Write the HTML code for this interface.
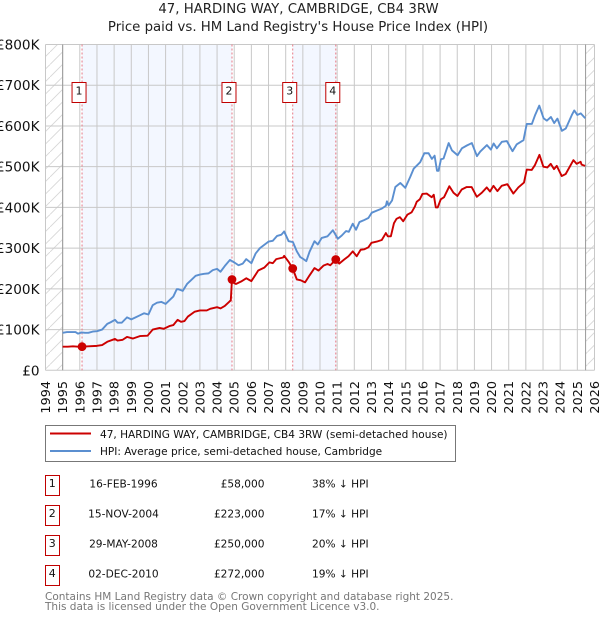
<!DOCTYPE html>
<html>
<head>
<meta charset="utf-8">
<style>
html,body{margin:0;padding:0;background:#fff;width:600px;height:620px;overflow:hidden}
svg{display:block;font-family:"DejaVu Sans","Liberation Sans",sans-serif}
</style>
</head>
<body>
<svg id="chart" width="600" height="620" viewBox="0 0 600 620" xmlns="http://www.w3.org/2000/svg">
<defs>
<pattern id="hatch" patternUnits="userSpaceOnUse" width="12.5" height="12.5" patternTransform="translate(0 2)">
<path d="M-1 13.5L13.5 -1" stroke="#d6d6d6" stroke-width="0.9" fill="none"/>
</pattern>
</defs>
<text x="298.5" y="13" text-anchor="middle" font-size="13.3" fill="#222">47, HARDING WAY, CAMBRIDGE, CB4 3RW</text>
<text x="298" y="31" text-anchor="middle" font-size="13.3" fill="#222">Price paid vs. HM Land Registry's House Price Index (HPI)</text>
<g id="plot"></g>

<g>
<rect x="45.5" y="425.5" width="410" height="36" fill="#fff" stroke="#777" stroke-width="1"/>
<line x1="50" x2="91" y1="433.5" y2="433.5" stroke="#cc0000" stroke-width="2"/>
<text x="100" y="438" font-size="10.55" fill="#111">47, HARDING WAY, CAMBRIDGE, CB4 3RW (semi-detached house)</text>
<line x1="50" x2="91" y1="451" y2="451" stroke="#5b8fd0" stroke-width="2"/>
<text x="100" y="455" font-size="10.55" fill="#111">HPI: Average price, semi-detached house, Cambridge</text>
</g>

<g id="table"></g>

<text x="45" y="600" font-size="10.5" fill="#777">Contains HM Land Registry data © Crown copyright and database right 2025.</text>
<text x="45" y="610" font-size="10.5" fill="#777">This data is licensed under the Open Government Licence v3.0.</text>
</svg>
<script>
// Chart data (values in £ thousands, dates in decimal years)
const xTickYears = [1994,1995,1996,1997,1998,1999,2000,2001,2002,2003,2004,2005,2006,2007,2008,2009,2010,2011,2012,2013,2014,2015,2016,2017,2018,2019,2020,2021,2022,2023,2024,2025,2026];
const yTickValues = [0,100,200,300,400,500,600,700,800];
const yTickLabels = ['£0','£100K','£200K','£300K','£400K','£500K','£600K','£700K','£800K'];
const hpiDates = [1995,1995.25,1995.5,1995.75,1995.9,1996.1,1996.3,1996.5,1996.75,1997,1997.3,1997.6,1997.8,1998.05,1998.2,1998.45,1998.75,1999,1999.25,1999.5,1999.75,2000,2000.25,2000.5,2000.75,2001,2001.25,2001.45,2001.65,2001.75,2002,2002.25,2002.5,2002.75,2003,2003.25,2003.5,2003.75,2004,2004.2,2004.45,2004.75,2005,2005.25,2005.5,2005.7,2006,2006.25,2006.5,2006.75,2007,2007.25,2007.5,2007.75,2007.91,2008.17,2008.42,2008.65,2008.85,2009.04,2009.2,2009.39,2009.68,2009.87,2010.1,2010.44,2010.75,2011.04,2011.27,2011.52,2011.68,2011.91,2012.1,2012.3,2012.53,2012.82,2013.02,2013.31,2013.6,2013.84,2013.9,2014,2014.2,2014.39,2014.68,2014.97,2015.26,2015.46,2015.84,2016.08,2016.33,2016.52,2016.68,2016.82,2016.91,2017.05,2017.2,2017.5,2017.69,2018.02,2018.27,2018.56,2018.85,2019.15,2019.34,2019.73,2019.96,2020.12,2020.31,2020.6,2020.89,2021.22,2021.47,2021.86,2022.05,2022.35,2022.54,2022.78,2023.03,2023.22,2023.46,2023.65,2023.84,2024.1,2024.33,2024.68,2024.82,2025,2025.2,2025.46];
const hpiValues = [92,94,94,94,90,93,92,92,95,96,100,114,118,124,117,117,130,125,130,135,140,137,160,166,168,163,173,181,199,199,195,212,222,232,235,237,238,246,249,242,256,271,265,258,262,273,263,287,300,308,316,318,330,333,341,317,315,292,278,273,268,291,317,309,325,329,344,323,331,342,340,360,345,364,368,374,387,392,397,404,415,405,417,450,460,448,475,495,511,533,533,519,527,490,490,518,520,558,540,528,545,552,558,526,537,553,542,557,545,561,563,538,555,565,605,605,627,650,619,613,622,607,618,588,594,627,638,627,631,619];
const paidDates = [1995,1995.3,1995.6,1995.9,1996.13,1996.5,1997,1997.3,1997.6,1998.05,1998.2,1998.5,1998.75,1999.1,1999.5,1999.95,2000.25,2000.65,2000.9,2001.25,2001.45,2001.7,2001.9,2002.1,2002.3,2002.7,2003,2003.4,2003.6,2004,2004.2,2004.45,2004.7,2004.8,2004.87,2005,2005.1,2005.4,2005.7,2006,2006.4,2006.75,2007.05,2007.25,2007.45,2007.85,2007.91,2008.16,2008.41,2008.65,2008.88,2009.13,2009.39,2009.68,2009.91,2010.2,2010.44,2010.6,2010.92,2011.12,2011.41,2011.66,2011.91,2012.14,2012.37,2012.57,2012.82,2013,2013.31,2013.6,2013.84,2013.95,2014.13,2014.31,2014.46,2014.66,2014.85,2015.09,2015.34,2015.53,2015.64,2015.82,2015.97,2016.22,2016.51,2016.63,2016.75,2016.86,2017.04,2017.23,2017.54,2017.78,2018.01,2018.26,2018.55,2018.84,2019.14,2019.43,2019.72,2019.91,2020.11,2020.34,2020.59,2020.92,2021.27,2021.56,2021.89,2022.05,2022.34,2022.53,2022.79,2023.02,2023.25,2023.45,2023.64,2023.8,2024.09,2024.32,2024.77,2024.96,2025.19,2025.25,2025.45];
const paidValues = [58,58,59,58,58,59,60,62,70,77,73,75,82,78,84,85,100,104,102,109,111,124,119,121,132,144,147,147,151,155,152,158,168,172,223,214,212,218,226,219,245,252,265,263,273,277,281,267,250,223,221,216,233,251,245,257,261,258,272,262,272,280,292,280,296,297,302,313,316,320,337,329,329,361,372,376,366,382,388,402,414,420,433,434,425,431,400,400,420,425,452,436,428,444,450,450,426,436,449,439,453,440,453,457,434,449,461,493,492,504,529,500,498,507,494,502,477,482,516,507,512,505,502];
const saleDates = [1996.13,2004.87,2008.41,2010.92];
const salePrices = [58,223,250,272];
const saleDateLabels = ['16-FEB-1996','15-NOV-2004','29-MAY-2008','02-DEC-2010'];
const salePriceLabels = ['£58,000','£223,000','£250,000','£272,000'];
const saleHpiLabels = ['38% ↓ HPI','17% ↓ HPI','20% ↓ HPI','19% ↓ HPI'];
const shadedRanges = [[1996.13,2004.87],[2008.41,2010.92]];
const dataStart = 1995;
const dataEnd = 2025.48;

const NS = 'http://www.w3.org/2000/svg';
const LEFT = 45.5, RIGHT = 594.5, TOP = 44.5, BOTTOM = 370.3;
const xScale = function (year) { return LEFT + (year - 1994) * (RIGHT - LEFT) / 32; };
const yScale = function (v) { return BOTTOM - v * (BOTTOM - TOP) / 800; };
const plot = document.getElementById('plot');
const table = document.getElementById('table');

function make(parent, tag, attrs, text) {
  const el = document.createElementNS(NS, tag);
  for (const k in attrs) el.setAttribute(k, attrs[k]);
  if (text !== undefined) el.textContent = text;
  parent.appendChild(el);
  return el;
}

let el;
// hatch zones outside the data range
el = make(plot, 'rect', {x: LEFT, y: TOP, width: xScale(dataStart) - LEFT, height: BOTTOM - TOP, fill: 'url(#hatch)'});


el = make(plot, 'rect', {x: xScale(dataEnd), y: TOP, width: RIGHT - xScale(dataEnd), height: BOTTOM - TOP, fill: 'url(#hatch)'});



// shaded ranges between sales
shadedRanges.forEach(function (r) {
  const band = make(plot, 'rect', {x: xScale(r[0]), y: TOP, width: xScale(r[1]) - xScale(r[0]), height: BOTTOM - TOP, fill: '#f3f7ff'});
  
  
});

// grid lines
xTickYears.forEach(function (y) {
  const g = make(plot, 'line', {x1: xScale(y), x2: xScale(y), y1: TOP, y2: BOTTOM, stroke: '#c8c8c8', 'stroke-width': 1});
  
  
});
yTickValues.forEach(function (v) {
  const g = make(plot, 'line', {x1: LEFT, x2: RIGHT, y1: yScale(v), y2: yScale(v), stroke: '#c8c8c8', 'stroke-width': 1});
  
  
});

// data range limits
[dataStart, dataEnd].forEach(function (y) {
  const g = make(plot, 'line', {x1: xScale(y), x2: xScale(y), y1: TOP, y2: BOTTOM, stroke: '#999', 'stroke-width': 1});
  
  
});

// y tick labels
yTickValues.forEach(function (v, i) {
  const t = make(plot, 'text', {x: 39.5, y: yScale(v) + 5, 'text-anchor': 'end', 'font-size': 13.6, fill: '#111'}, yTickLabels[i]);
  
  
});

// x tick labels
xTickYears.forEach(function (y) {
  const px = xScale(y) + 4.5;
  const t = make(plot, 'text', {x: px, y: 381, 'text-anchor': 'end', 'font-size': 12.8, fill: '#111', transform: 'rotate(-90 ' + px + ' 381)'}, String(y));
  
  
});

// sale marker dashed lines
saleDates.forEach(function (d) {
  const g = make(plot, 'line', {x1: xScale(d), x2: xScale(d), y1: TOP, y2: BOTTOM, stroke: '#e87a86', 'stroke-width': 1, 'stroke-dasharray': '2 2'});
  
  
});

function pathFrom(dates, values) {
  return dates.map(function (d, i) {
    return (i ? 'L' : 'M') + xScale(d).toFixed(2) + ' ' + yScale(values[i]).toFixed(2);
  }).join('');
}
el = make(plot, 'path', {d: pathFrom(hpiDates, hpiValues), fill: 'none', stroke: '#5b8fd0', 'stroke-width': 1.9, 'stroke-linejoin': 'round'});


el = make(plot, 'path', {d: pathFrom(paidDates, paidValues), fill: 'none', stroke: '#cc0000', 'stroke-width': 1.9, 'stroke-linejoin': 'round'});



// sale points and number flags
saleDates.forEach(function (d, i) {
  const c = make(plot, 'circle', {cx: xScale(d), cy: yScale(salePrices[i]), r: 4.4, fill: '#cc0000'});
  
  
  const bx = xScale(d) - 10;
  const b = make(plot, 'rect', {x: bx, y: 82.5, width: 14, height: 20, fill: '#fff', stroke: '#c00000', 'stroke-width': 1});
  
  
  const t = make(plot, 'text', {x: bx + 7, y: 94.5, 'text-anchor': 'middle', 'font-size': 11, fill: '#111'}, String(i + 1));
  
  
});

// sales table
saleDateLabels.forEach(function (label, i) {
  const yTop = 475.5 + i * 30;
  const b = make(table, 'rect', {x: 45.5, y: yTop, width: 14, height: 20, fill: '#fff', stroke: '#c00000', 'stroke-width': 1});
  
  
  const n = make(table, 'text', {x: 52.3, y: yTop + 11.5, 'text-anchor': 'middle', 'font-size': 11, fill: '#111'}, String(i + 1));
  
  
  const a = make(table, 'text', {x: 123.5, y: yTop + 12, 'text-anchor': 'middle', 'font-size': 10.6, fill: '#111'}, label);
  
  
  const p = make(table, 'text', {x: 264.5, y: yTop + 12, 'text-anchor': 'end', 'font-size': 10.6, fill: '#111'}, salePriceLabels[i]);
  
  
  const h = make(table, 'text', {x: 312, y: yTop + 12, 'font-size': 10.6, fill: '#111'}, saleHpiLabels[i]);
  
  
});
</script>
</body>
</html>
